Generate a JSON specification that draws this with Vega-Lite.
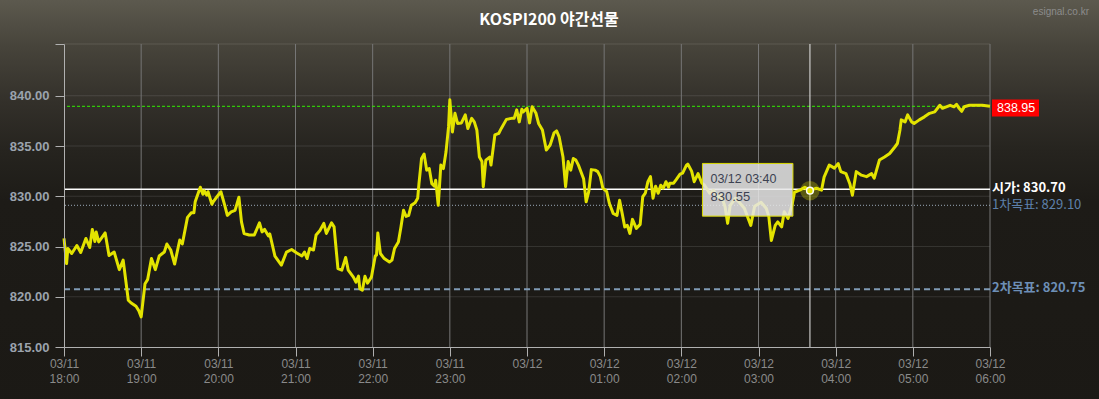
{
  "$schema": "https://vega.github.io/schema/vega-lite/v6.json",
  "width": 926,
  "height": 303,
  "autosize": {"type": "none"},
  "padding": {"left": 64, "top": 44, "right": 109, "bottom": 52},
  "background": "#1b1915",
  "config": {
    "view": {"stroke": null},
    "font": "Liberation Sans",
    "axisY": {"labelColor": "#9ba3ad", "labelFont": "Liberation Sans", "labelFontSize": 13, "labelFontWeight": "bold", "labelPadding": 6, "tickSize": 9, "tickColor": "#b0b0b0", "domainColor": "#b0b0b0", "grid": false, "title": null},
    "axisX": {"labelColor": "#8a8a8a", "labelFont": "Liberation Sans", "labelFontSize": 12, "labelLineHeight": 15, "labelPadding": 2, "labelFlush": false, "labelOverlap": false, "tickSize": 9, "tickColor": "#b0b0b0", "domainColor": "#b0b0b0", "grid": false, "title": null}
  },
  "title": {"text": "KOSPI200 야간선물", "font": "Noto Sans CJK KR", "fontSize": 16, "fontWeight": "bold", "color": "#ffffff", "anchor": "middle", "baseline": "bottom", "dx": 22, "offset": -59, "zindex": 2},
  "layer": [
    {
      "data": {"values": [{}]},
      "mark": {"type": "rect", "fill": {"gradient": "linear", "x1": 0, "y1": 0, "x2": 0, "y2": 1, "stops": [
        {"offset": 0, "color": "#5f5c51"},
        {"offset": 0.035, "color": "#5c594e"},
        {"offset": 0.14, "color": "#47443b"},
        {"offset": 0.27, "color": "#33302a"},
        {"offset": 0.38, "color": "#26241f"},
        {"offset": 0.5, "color": "#1d1b17"},
        {"offset": 1, "color": "#1b1915"}]}},
      "encoding": {
        "x": {"datum": {"year": 1900, "month": 3, "date": 11, "hours": 16, "utc": true}, "type": "temporal"},
        "x2": {"datum": {"year": 1900, "month": 3, "date": 12, "hours": 8, "utc": true}},
        "y": {"datum": 851, "type": "quantitative"},
        "y2": {"datum": 808}
      }
    },
    {
      "data": {"values": [{"v": 820}, {"v": 825}, {"v": 830}, {"v": 835}, {"v": 840}, {"v": 845.15}]},
      "mark": {"type": "rule", "color": "#ffffff", "opacity": 0.11, "strokeWidth": 1},
      "encoding": {"y": {"field": "v", "type": "quantitative"}}
    },
    {
      "data": {"values": [{"t": "03/11 19:00"}, {"t": "03/11 20:00"}, {"t": "03/11 21:00"}, {"t": "03/11 22:00"}, {"t": "03/11 23:00"}, {"t": "03/12 00:00"}, {"t": "03/12 01:00"}, {"t": "03/12 02:00"}, {"t": "03/12 03:00"}, {"t": "03/12 04:00"}, {"t": "03/12 05:00"}, {"t": "03/12 06:00"}], "format": {"parse": {"t": "utc:'%m/%d %H:%M'"}}},
      "mark": {"type": "rule", "color": "#767676", "strokeWidth": 1},
      "encoding": {"x": {"field": "t", "type": "temporal"}}
    },
    {
      "data": {"values": [
        {"kind": "high", "v": 838.95},
        {"kind": "open", "v": 830.70},
        {"kind": "t1", "v": 829.10},
        {"kind": "t2", "v": 820.75}
      ]},
      "layer": [
        {"transform": [{"filter": "datum.kind == 'high'"}], "mark": {"type": "rule", "color": "#33ee00", "strokeWidth": 1, "strokeDash": [3, 2]}, "encoding": {"y": {"field": "v", "type": "quantitative"}}},
        {"transform": [{"filter": "datum.kind == 'open'"}], "mark": {"type": "rule", "color": "#ffffff", "strokeWidth": 1.5}, "encoding": {"y": {"field": "v", "type": "quantitative"}}},
        {"transform": [{"filter": "datum.kind == 't1'"}], "mark": {"type": "rule", "color": "#9aa9ba", "strokeWidth": 1, "strokeDash": [1, 2]}, "encoding": {"y": {"field": "v", "type": "quantitative"}}},
        {"transform": [{"filter": "datum.kind == 't2'"}], "mark": {"type": "rule", "color": "#7f9ab5", "strokeWidth": 2, "strokeDash": [6, 4]}, "encoding": {"y": {"field": "v", "type": "quantitative"}}}
      ]
    },
    {
      "data": {"values": [{"t": "03/12 03:40", "v": 830.55}], "format": {"parse": {"t": "utc:'%m/%d %H:%M'"}}},
      "mark": {"type": "rule", "color": "#e8e8e8", "strokeWidth": 1},
      "encoding": {"x": {"field": "t", "type": "temporal"}}
    },
    {
      "data": {"values": [
{"t":"03/11 18:00","v":825.8},{"t":"03/11 18:02","v":823.3},{"t":"03/11 18:03","v":824.8},{"t":"03/11 18:06","v":824.3},{"t":"03/11 18:10","v":825.1},{"t":"03/11 18:13","v":824.4},{"t":"03/11 18:17","v":825.8},{"t":"03/11 18:20","v":824.9},{"t":"03/11 18:22","v":826.7},{"t":"03/11 18:24","v":825.5},{"t":"03/11 18:25","v":826.45},{"t":"03/11 18:27","v":825.45},{"t":"03/11 18:29","v":825.8},{"t":"03/11 18:32","v":826.35},{"t":"03/11 18:35","v":824.1},{"t":"03/11 18:39","v":824.45},{"t":"03/11 18:43","v":822.7},{"t":"03/11 18:46","v":823.65},{"t":"03/11 18:50","v":819.65},{"t":"03/11 18:52","v":819.4},{"t":"03/11 18:56","v":819.05},{"t":"03/11 18:58","v":818.65},
{"t":"03/11 19:00","v":818.0},{"t":"03/11 19:03","v":821.3},{"t":"03/11 19:05","v":821.7},{"t":"03/11 19:08","v":823.8},{"t":"03/11 19:11","v":822.7},{"t":"03/11 19:14","v":824.05},{"t":"03/11 19:18","v":824.45},{"t":"03/11 19:20","v":825.25},{"t":"03/11 19:23","v":824.65},{"t":"03/11 19:26","v":823.25},{"t":"03/11 19:30","v":825.65},{"t":"03/11 19:32","v":825.25},{"t":"03/11 19:36","v":827.9},{"t":"03/11 19:39","v":828.35},{"t":"03/11 19:41","v":828.35},{"t":"03/11 19:42","v":829.45},{"t":"03/11 19:46","v":830.9},{"t":"03/11 19:48","v":830.2},{"t":"03/11 19:49","v":830.55},{"t":"03/11 19:51","v":830.1},{"t":"03/11 19:52","v":830.45},{"t":"03/11 19:55","v":829.2},{"t":"03/11 19:56","v":829.45},{"t":"03/11 19:58","v":829.8},
{"t":"03/11 20:02","v":830.45},{"t":"03/11 20:05","v":829.1},{"t":"03/11 20:07","v":828.1},{"t":"03/11 20:10","v":828.45},{"t":"03/11 20:13","v":828.6},{"t":"03/11 20:16","v":829.9},{"t":"03/11 20:18","v":827.45},{"t":"03/11 20:20","v":826.3},{"t":"03/11 20:24","v":826.15},{"t":"03/11 20:28","v":826.15},{"t":"03/11 20:32","v":827.35},{"t":"03/11 20:34","v":826.45},{"t":"03/11 20:36","v":826.7},{"t":"03/11 20:39","v":826.05},{"t":"03/11 20:40","v":826.25},{"t":"03/11 20:44","v":824.05},{"t":"03/11 20:49","v":823.15},{"t":"03/11 20:53","v":824.45},{"t":"03/11 20:57","v":824.7},
{"t":"03/11 21:01","v":824.35},{"t":"03/11 21:05","v":824.05},{"t":"03/11 21:07","v":824.45},{"t":"03/11 21:09","v":823.8},{"t":"03/11 21:11","v":824.8},{"t":"03/11 21:14","v":824.65},{"t":"03/11 21:16","v":826.15},{"t":"03/11 21:19","v":826.6},{"t":"03/11 21:22","v":827.3},{"t":"03/11 21:24","v":826.3},{"t":"03/11 21:28","v":827.35},{"t":"03/11 21:30","v":826.95},{"t":"03/11 21:33","v":822.8},{"t":"03/11 21:36","v":822.65},{"t":"03/11 21:39","v":823.9},{"t":"03/11 21:41","v":822.65},{"t":"03/11 21:45","v":821.95},{"t":"03/11 21:47","v":821.45},{"t":"03/11 21:49","v":822.05},{"t":"03/11 21:50","v":820.8},{"t":"03/11 21:52","v":820.65},{"t":"03/11 21:54","v":822.05},{"t":"03/11 21:56","v":821.35},{"t":"03/11 21:59","v":821.95},
{"t":"03/11 22:02","v":824.05},{"t":"03/11 22:03","v":824.15},{"t":"03/11 22:04","v":826.35},{"t":"03/11 22:06","v":824.3},{"t":"03/11 22:09","v":823.8},{"t":"03/11 22:13","v":823.45},{"t":"03/11 22:15","v":823.65},{"t":"03/11 22:17","v":824.8},{"t":"03/11 22:20","v":825.45},{"t":"03/11 22:22","v":826.95},{"t":"03/11 22:24","v":828.6},{"t":"03/11 22:26","v":828.0},{"t":"03/11 22:28","v":828.1},{"t":"03/11 22:30","v":829.1},{"t":"03/11 22:33","v":829.35},{"t":"03/11 22:35","v":829.8},{"t":"03/11 22:36","v":831.25},{"t":"03/11 22:38","v":833.75},{"t":"03/11 22:40","v":834.2},{"t":"03/11 22:42","v":832.6},{"t":"03/11 22:44","v":832.75},{"t":"03/11 22:46","v":831.25},{"t":"03/11 22:48","v":831.0},{"t":"03/11 22:49","v":831.6},{"t":"03/11 22:51","v":829.1},{"t":"03/11 22:53","v":833.1},{"t":"03/11 22:55","v":832.75},{"t":"03/11 22:57","v":834.4},{"t":"03/11 22:59","v":836.9},
{"t":"03/11 23:00","v":839.6},{"t":"03/11 23:02","v":836.4},{"t":"03/11 23:04","v":838.25},{"t":"03/11 23:06","v":837.25},{"t":"03/11 23:09","v":837.3},{"t":"03/11 23:12","v":838.1},{"t":"03/11 23:14","v":836.75},{"t":"03/11 23:17","v":837.75},{"t":"03/11 23:19","v":837.4},{"t":"03/11 23:21","v":836.6},{"t":"03/11 23:23","v":833.9},{"t":"03/11 23:25","v":833.45},{"t":"03/11 23:26","v":830.95},{"t":"03/11 23:28","v":833.6},{"t":"03/11 23:31","v":833.9},{"t":"03/11 23:32","v":833.1},{"t":"03/11 23:35","v":836.1},{"t":"03/11 23:38","v":836.25},{"t":"03/11 23:40","v":836.75},{"t":"03/11 23:44","v":837.65},{"t":"03/11 23:48","v":837.75},{"t":"03/11 23:50","v":837.75},{"t":"03/11 23:52","v":838.6},{"t":"03/11 23:54","v":837.4},{"t":"03/11 23:56","v":838.65},{"t":"03/11 23:57","v":838.4},
{"t":"03/12 00:00","v":838.75},{"t":"03/12 00:02","v":837.3},{"t":"03/12 00:04","v":838.9},{"t":"03/12 00:07","v":838.25},{"t":"03/12 00:09","v":837.25},{"t":"03/12 00:12","v":836.6},{"t":"03/12 00:15","v":834.6},{"t":"03/12 00:18","v":835.1},{"t":"03/12 00:21","v":836.3},{"t":"03/12 00:23","v":836.5},{"t":"03/12 00:25","v":835.9},{"t":"03/12 00:28","v":833.9},{"t":"03/12 00:30","v":830.95},{"t":"03/12 00:32","v":833.45},{"t":"03/12 00:34","v":832.6},{"t":"03/12 00:36","v":833.75},{"t":"03/12 00:38","v":833.6},{"t":"03/12 00:40","v":833.1},{"t":"03/12 00:44","v":831.75},{"t":"03/12 00:46","v":829.45},{"t":"03/12 00:48","v":830.45},{"t":"03/12 00:50","v":832.65},{"t":"03/12 00:53","v":832.6},{"t":"03/12 00:55","v":832.45},{"t":"03/12 00:57","v":831.95},{"t":"03/12 00:59","v":830.8},
{"t":"03/12 01:02","v":830.45},{"t":"03/12 01:04","v":829.3},{"t":"03/12 01:07","v":828.3},{"t":"03/12 01:10","v":828.1},{"t":"03/12 01:12","v":829.6},{"t":"03/12 01:14","v":828.3},{"t":"03/12 01:16","v":826.95},{"t":"03/12 01:18","v":827.1},{"t":"03/12 01:20","v":826.3},{"t":"03/12 01:22","v":827.7},{"t":"03/12 01:25","v":826.8},{"t":"03/12 01:28","v":827.2},{"t":"03/12 01:30","v":829.95},{"t":"03/12 01:32","v":830.3},{"t":"03/12 01:34","v":831.45},{"t":"03/12 01:36","v":831.95},{"t":"03/12 01:38","v":829.8},{"t":"03/12 01:40","v":831.0},{"t":"03/12 01:42","v":830.3},{"t":"03/12 01:44","v":831.1},{"t":"03/12 01:46","v":830.8},{"t":"03/12 01:48","v":831.45},{"t":"03/12 01:50","v":830.9},{"t":"03/12 01:51","v":831.3},{"t":"03/12 01:54","v":831.3},{"t":"03/12 01:56","v":831.65},{"t":"03/12 01:59","v":832.2},
{"t":"03/12 02:01","v":832.3},{"t":"03/12 02:04","v":833.1},{"t":"03/12 02:05","v":833.2},{"t":"03/12 02:08","v":832.5},{"t":"03/12 02:10","v":831.45},{"t":"03/12 02:13","v":832.25},{"t":"03/12 02:16","v":831.3},{"t":"03/12 02:18","v":831.1},{"t":"03/12 02:22","v":830.3},{"t":"03/12 02:25","v":830.6},{"t":"03/12 02:29","v":829.8},{"t":"03/12 02:31","v":830.1},{"t":"03/12 02:34","v":828.95},{"t":"03/12 02:36","v":827.3},{"t":"03/12 02:38","v":829.1},{"t":"03/12 02:42","v":829.8},{"t":"03/12 02:45","v":829.4},{"t":"03/12 02:49","v":828.8},{"t":"03/12 02:54","v":827.1},{"t":"03/12 02:57","v":829.0},
{"t":"03/12 03:02","v":829.4},{"t":"03/12 03:06","v":828.8},{"t":"03/12 03:08","v":828.0},{"t":"03/12 03:10","v":825.6},{"t":"03/12 03:13","v":827.1},{"t":"03/12 03:15","v":827.45},{"t":"03/12 03:18","v":826.95},{"t":"03/12 03:20","v":828.45},{"t":"03/12 03:23","v":827.8},{"t":"03/12 03:26","v":829.1},{"t":"03/12 03:28","v":830.4},{"t":"03/12 03:32","v":830.6},{"t":"03/12 03:36","v":830.9},{"t":"03/12 03:40","v":830.55},{"t":"03/12 03:45","v":830.8},{"t":"03/12 03:49","v":830.6},{"t":"03/12 03:51","v":831.9},{"t":"03/12 03:55","v":833.1},{"t":"03/12 03:59","v":832.8},
{"t":"03/12 04:02","v":833.25},{"t":"03/12 04:04","v":832.45},{"t":"03/12 04:08","v":832.25},{"t":"03/12 04:11","v":831.25},{"t":"03/12 04:13","v":830.1},{"t":"03/12 04:16","v":832.45},{"t":"03/12 04:20","v":832.1},{"t":"03/12 04:24","v":831.95},{"t":"03/12 04:28","v":832.25},{"t":"03/12 04:30","v":831.8},{"t":"03/12 04:34","v":833.6},{"t":"03/12 04:38","v":833.9},{"t":"03/12 04:42","v":834.25},{"t":"03/12 04:46","v":834.9},{"t":"03/12 04:48","v":835.25},{"t":"03/12 04:50","v":836.6},{"t":"03/12 04:51","v":837.6},{"t":"03/12 04:54","v":837.4},{"t":"03/12 04:56","v":838.1},{"t":"03/12 04:59","v":837.4},
{"t":"03/12 05:01","v":837.25},{"t":"03/12 05:05","v":837.6},{"t":"03/12 05:09","v":837.9},{"t":"03/12 05:13","v":838.25},{"t":"03/12 05:17","v":838.4},{"t":"03/12 05:21","v":839.05},{"t":"03/12 05:23","v":838.75},{"t":"03/12 05:29","v":839.05},{"t":"03/12 05:32","v":838.9},{"t":"03/12 05:34","v":839.15},{"t":"03/12 05:36","v":838.75},{"t":"03/12 05:38","v":838.45},{"t":"03/12 05:40","v":838.9},{"t":"03/12 05:44","v":839.05},{"t":"03/12 05:48","v":839.05},{"t":"03/12 05:54","v":839.05},{"t":"03/12 06:00","v":838.95}
      ], "format": {"parse": {"t": "utc:'%m/%d %H:%M'"}}},
      "mark": {"type": "line", "color": "#e3e300", "strokeWidth": 3, "strokeJoin": "round"},
      "encoding": {
        "x": {"field": "t", "type": "temporal",
          "scale": {"type": "utc", "domain": [{"year": 1900, "month": 3, "date": 11, "hours": 18, "utc": true}, {"year": 1900, "month": 3, "date": 12, "hours": 6, "utc": true}]},
          "axis": {"zindex": 1,
            "values": [
              {"year": 1900, "month": 3, "date": 11, "hours": 18, "utc": true},
              {"year": 1900, "month": 3, "date": 11, "hours": 19, "utc": true},
              {"year": 1900, "month": 3, "date": 11, "hours": 20, "utc": true},
              {"year": 1900, "month": 3, "date": 11, "hours": 21, "utc": true},
              {"year": 1900, "month": 3, "date": 11, "hours": 22, "utc": true},
              {"year": 1900, "month": 3, "date": 11, "hours": 23, "utc": true},
              {"year": 1900, "month": 3, "date": 12, "hours": 0, "utc": true},
              {"year": 1900, "month": 3, "date": 12, "hours": 1, "utc": true},
              {"year": 1900, "month": 3, "date": 12, "hours": 2, "utc": true},
              {"year": 1900, "month": 3, "date": 12, "hours": 3, "utc": true},
              {"year": 1900, "month": 3, "date": 12, "hours": 4, "utc": true},
              {"year": 1900, "month": 3, "date": 12, "hours": 5, "utc": true},
              {"year": 1900, "month": 3, "date": 12, "hours": 6, "utc": true}],
            "labelExpr": "utchours(datum.value) == 0 ? utcFormat(datum.value, '%m/%d') : [utcFormat(datum.value, '%m/%d'), utcFormat(datum.value, '%H:%M')]"}},
        "y": {"field": "v", "type": "quantitative",
          "scale": {"domain": [815, 845.15], "zero": false, "nice": false},
          "axis": {"zindex": 1, "values": [815, 820, 825, 830, 835, 840, 845.15], "labelExpr": "datum.value > 841 ? '' : format(datum.value, '.2f')"}}
      }
    },
    {
      "data": {"values": [{"t": "03/12 03:40", "v": 830.55, "label": "03/12 03:40"}], "format": {"parse": {"t": "utc:'%m/%d %H:%M'"}}},
      "layer": [
        {"mark": {"type": "point", "filled": true, "size": 380, "color": "#e3e300", "opacity": 0.3}, "encoding": {"x": {"field": "t", "type": "temporal"}, "y": {"field": "v", "type": "quantitative"}}},
        {"mark": {"type": "point", "filled": true, "size": 45, "fill": "#e3e300", "stroke": "#ffffff", "strokeWidth": 1.5, "opacity": 1}, "encoding": {"x": {"field": "t", "type": "temporal"}, "y": {"field": "v", "type": "quantitative"}}},
        {"mark": {"type": "rect", "fill": "#e6e6e6", "fillOpacity": 0.86, "stroke": "#dada00", "strokeWidth": 1, "xOffset": -107.5, "x2Offset": -17, "yOffset": -27.3, "y2Offset": 25.4},
         "encoding": {"x": {"field": "t", "type": "temporal"}, "x2": {"field": "t"}, "y": {"field": "v", "type": "quantitative"}, "y2": {"field": "v"}}},
        {"mark": {"type": "text", "align": "left", "baseline": "middle", "dx": -99.5, "dy": -11.3, "font": "Liberation Sans", "fontSize": 12.5, "color": "#3c4252"},
         "encoding": {"x": {"field": "t", "type": "temporal"}, "y": {"field": "v", "type": "quantitative"}, "text": {"field": "label"}}},
        {"mark": {"type": "text", "align": "left", "baseline": "middle", "dx": -99.5, "dy": 6.7, "font": "Liberation Sans", "fontSize": 13, "color": "#3c4252"},
         "encoding": {"x": {"field": "t", "type": "temporal"}, "y": {"field": "v", "type": "quantitative"}, "text": {"field": "v", "type": "quantitative", "format": ".2f"}}}
      ]
    },
    {
      "data": {"values": [
        {"kind": "high", "v": 838.95, "label": "838.95"},
        {"kind": "open", "v": 830.70, "label": "시가: 830.70"},
        {"kind": "t1", "v": 829.10, "label": "1차목표: 829.10"},
        {"kind": "t2", "v": 820.75, "label": "2차목표: 820.75"}
      ]},
      "layer": [
        {"transform": [{"filter": "datum.kind == 'high'"}],
         "mark": {"type": "rect", "fill": "#ff0000", "xOffset": 2, "x2Offset": 49, "yOffset": -6.7, "y2Offset": 10.3},
         "encoding": {"x": {"datum": {"year": 1900, "month": 3, "date": 12, "hours": 6, "utc": true}, "type": "temporal"}, "x2": {"datum": {"year": 1900, "month": 3, "date": 12, "hours": 6, "utc": true}}, "y": {"field": "v", "type": "quantitative"}, "y2": {"field": "v"}}},
        {"transform": [{"filter": "datum.kind == 'high'"}],
         "mark": {"type": "text", "align": "left", "baseline": "middle", "dx": 7, "dy": 1.8, "font": "Liberation Sans", "fontSize": 12.5, "color": "#ffffff"},
         "encoding": {"x": {"datum": {"year": 1900, "month": 3, "date": 12, "hours": 6, "utc": true}, "type": "temporal"}, "y": {"field": "v", "type": "quantitative"}, "text": {"field": "label"}}},
        {"transform": [{"filter": "datum.kind == 'open'"}],
         "mark": {"type": "text", "align": "left", "baseline": "middle", "dx": 2, "dy": -1, "font": "Noto Sans CJK KR", "fontSize": 13, "fontWeight": "bold", "color": "#ffffff"},
         "encoding": {"x": {"datum": {"year": 1900, "month": 3, "date": 12, "hours": 6, "utc": true}, "type": "temporal"}, "y": {"field": "v", "type": "quantitative"}, "text": {"field": "label"}}},
        {"transform": [{"filter": "datum.kind == 't1'"}],
         "mark": {"type": "text", "align": "left", "baseline": "middle", "dx": 2, "dy": 0, "font": "Noto Sans CJK KR", "fontSize": 13, "color": "#5d80aa"},
         "encoding": {"x": {"datum": {"year": 1900, "month": 3, "date": 12, "hours": 6, "utc": true}, "type": "temporal"}, "y": {"field": "v", "type": "quantitative"}, "text": {"field": "label"}}},
        {"transform": [{"filter": "datum.kind == 't2'"}],
         "mark": {"type": "text", "align": "left", "baseline": "middle", "dx": 2, "dy": -1, "font": "Noto Sans CJK KR", "fontSize": 13, "fontWeight": "bold", "color": "#6d8fb6"},
         "encoding": {"x": {"datum": {"year": 1900, "month": 3, "date": 12, "hours": 6, "utc": true}, "type": "temporal"}, "y": {"field": "v", "type": "quantitative"}, "text": {"field": "label"}}}
      ]
    },
    {
      "data": {"values": [{"site": "esignal.co.kr"}]},
      "mark": {"type": "text", "align": "right", "baseline": "middle", "dx": 99, "dy": -32, "font": "Liberation Sans", "fontSize": 10, "color": "#8c8c8c"},
      "encoding": {"x": {"datum": {"year": 1900, "month": 3, "date": 12, "hours": 6, "utc": true}, "type": "temporal"}, "y": {"datum": 845.15, "type": "quantitative"}, "text": {"field": "site"}}
    }
  ]
}
